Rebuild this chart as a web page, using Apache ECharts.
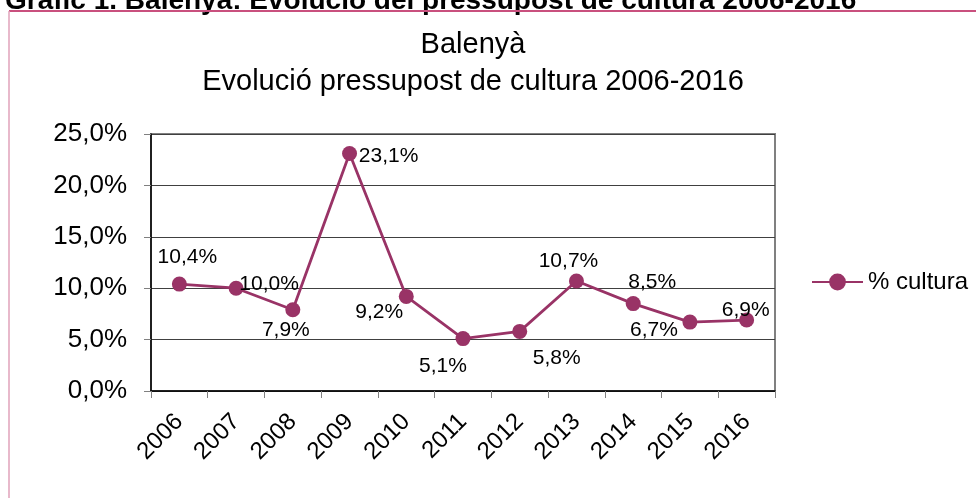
<!DOCTYPE html>
<html>
<head>
<meta charset="utf-8">
<script src="https://cdn.jsdelivr.net/npm/echarts@6/dist/echarts.min.js"></script>
<style>
  html, body { margin: 0; padding: 0; background: #fff; }
  #chart { width: 976px; height: 498px; }
</style>
</head>
<body>
<div id="chart"></div>
<script>
var years = ["2006", "2007", "2008", "2009", "2010", "2011", "2012", "2013", "2014", "2015", "2016"];
var cultura = [10.4, 10.0, 7.9, 23.1, 9.2, 5.1, 5.8, 10.7, 8.5, 6.7, 6.9];
var yTicks = [0, 5, 10, 15, 20, 25];

// where each value label sits relative to its marker, in px
var labelOffsets = [[8, -27], [33, -4], [-7, 20], [39, 3], [-27, 16], [-20, 28],
  [37, 27], [-8, -20], [19, -21], [-36, 8], [-1, -10]];

var FONT = "'Liberation Sans', Arial, sans-serif";
var LINE_COLOR = "#993366";

function pct(v) {
  return v.toFixed(1).replace(".", ",") + "%";
}

var myChart = echarts.init(document.getElementById("chart"));

var seriesData = cultura.map(function (v, i) {
  return {
    value: v,
    label: { offset: labelOffsets[i] },
  };
});

myChart.setOption({
  animation: false,
  backgroundColor: "#fff",
  textStyle: { fontFamily: FONT },
  graphic: [
    {
      type: "text",
      x: 5,
      y: 1,
      style: {
        text: "Gràfic 1. Balenyà: Evolució del pressupost de cultura 2006-2016",
        font: "bold 28px " + FONT,
        fill: "#000",
        align: "left",
        verticalAlign: "middle",
      },
    },
    {
      type: "line",
      shape: { x1: 9, y1: 11, x2: 976, y2: 11 },
      style: { stroke: "#c9507e", lineWidth: 2 },
    },
    {
      type: "line",
      shape: { x1: 9, y1: 11, x2: 9, y2: 498 },
      style: { stroke: "#e0a2ba", lineWidth: 1.5 },
    },
    {
      type: "text",
      x: 473,
      y: 45,
      style: {
        text: "Balenyà",
        font: "29px " + FONT,
        fill: "#000",
        align: "center",
        verticalAlign: "middle",
      },
    },
    {
      type: "text",
      x: 473,
      y: 82,
      style: {
        text: "Evolució pressupost de cultura 2006-2016",
        font: "29px " + FONT,
        fill: "#000",
        align: "center",
        verticalAlign: "middle",
      },
    },
  ],
  legend: {
    data: ["% cultura"],
    left: 806,
    top: 265,
    itemWidth: 51,
    itemHeight: 21,
    itemGap: 6,
    textStyle: { fontSize: 24, color: "#000", fontFamily: FONT },
  },
  grid: {
    left: 151,
    right: 201,
    top: 134,
    bottom: 107,
    show: true,
    borderColor: "#808080",
    borderWidth: 2,
    backgroundColor: "#fff",
  },
  xAxis: {
    type: "category",
    data: years,
    boundaryGap: true,
    axisLine: { lineStyle: { color: "#000", width: 1.5 } },
    axisTick: { show: true, length: 7, inside: false, lineStyle: { color: "#808080", width: 1 } },
    axisLabel: {
      rotate: 45,
      margin: 27,
      fontSize: 24,
      color: "#000",
      fontFamily: FONT,
      interval: 0,
    },
    splitLine: { show: false },
  },
  yAxis: {
    type: "value",
    min: yTicks[0],
    max: yTicks[yTicks.length - 1],
    interval: 5,
    axisLine: { show: true, lineStyle: { color: "#000", width: 1.5 } },
    axisTick: { show: true, length: 7, lineStyle: { color: "#808080" } },
    axisLabel: {
      margin: 24,
      fontSize: 26,
      color: "#000",
      fontFamily: FONT,
      formatter: function (v) {
        return pct(v);
      },
    },
    splitLine: { show: true, lineStyle: { color: "#404040", width: 1 } },
  },
  series: [
    {
      name: "% cultura",
      type: "line",
      data: seriesData,
      symbol: "circle",
      symbolSize: 15,
      color: LINE_COLOR,
      lineStyle: { color: LINE_COLOR, width: 2.8 },
      itemStyle: { color: LINE_COLOR },
      label: {
        show: true,
        position: "inside",
        align: "center",
        verticalAlign: "middle",
        fontSize: 21,
        color: "#000",
        fontFamily: FONT,
        formatter: function (p) {
          return pct(p.value);
        },
      },
      emphasis: { disabled: true },
    },
  ],
});
</script>
</body>
</html>
